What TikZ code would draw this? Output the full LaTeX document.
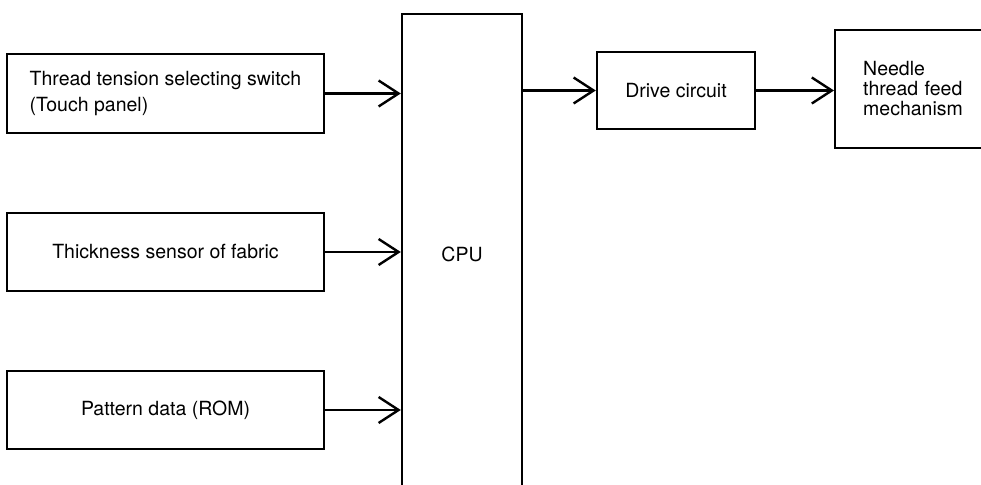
\documentclass[tikz,border=0pt]{standalone}
\usepackage{fontspec}
\setmainfont{TeX Gyre Heros}
\usetikzlibrary{arrows.meta}

\begin{document}
\begin{tikzpicture}[x=1pt, y=1pt, line width=2.4pt, every node/.style={font=\fontsize{19.5}{26}\selectfont}, >={Straight Barb[length=20pt, width=26pt]}, blk/.style={draw, line width=2.4pt, inner sep=0pt, align=center}]
	\clip (0,0) rectangle (981,484);
	\node[blk, minimum width=317pt, minimum height=79pt, align=left] (tension) at (165.5,390.5) {Thread tension selecting switch\\(Touch panel)};
	\node[blk, minimum width=317pt, minimum height=78pt] (thick) at (165.5,232) {Thickness sensor of fabric};
	\node[blk, minimum width=317pt, minimum height=78pt] (pattern) at (165.5,74) {Pattern data (ROM)};
	\node[blk, minimum width=120pt, minimum height=480pt, anchor=north] (cpu) at (462,471) {CPU};
	\node[blk, minimum width=158pt, minimum height=77pt] (drive) at (676,393.5) {Drive circuit};
	\node[blk, minimum height=118pt, anchor=west, inner xsep=28pt, text width=130pt, align=left, font=\fontsize{19.5}{20}\selectfont] (needle) at (834,395) {Needle\\thread feed\\mechanism};
	\draw[->] (tension.east) -- (tension.east -| cpu.west);
	\draw[->] (thick.east) -- (thick.east -| cpu.west);
	\draw[->] (pattern.east) -- (pattern.east -| cpu.west);
	\draw[->] (drive.west -| cpu.east) -- (drive.west);
	\draw[->] (drive.east) -- (drive.east -| needle.west);
\end{tikzpicture}
\end{document}
